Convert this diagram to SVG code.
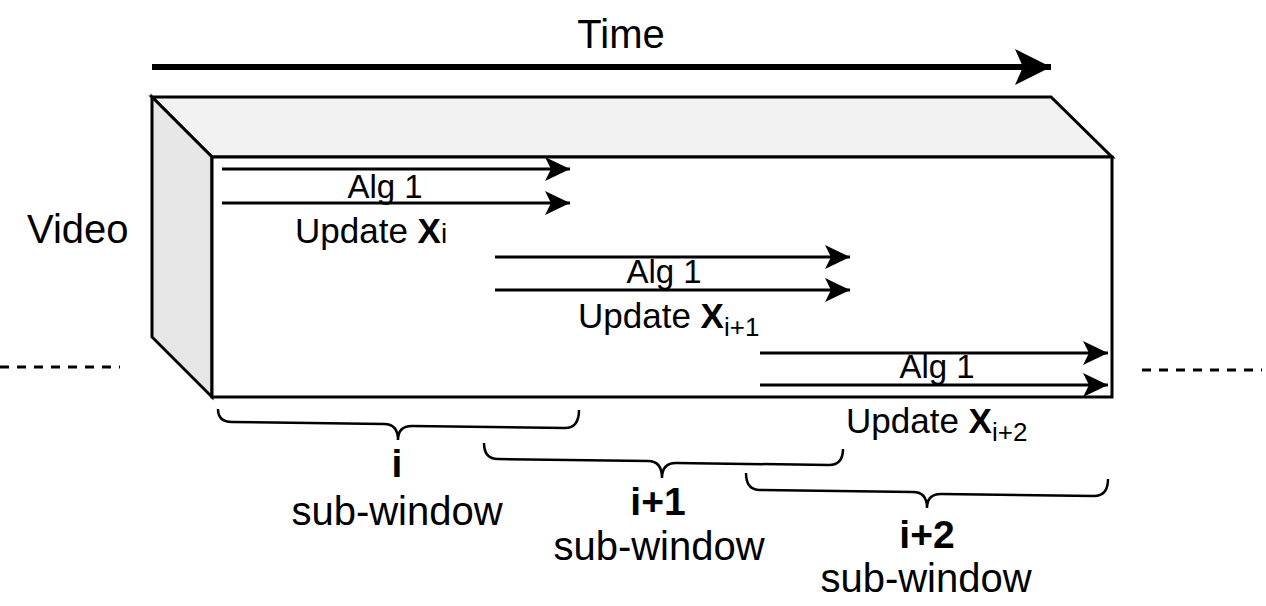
<svg xmlns="http://www.w3.org/2000/svg" width="1266" height="606" viewBox="0 0 1266 606">
<defs>
<marker id="ah" markerUnits="userSpaceOnUse" markerWidth="26" markerHeight="26" viewBox="0 0 26 26" refX="25" refY="13" orient="auto">
<path d="M0,1 L25,13 L0,25 L6,13 Z" fill="#000"/>
</marker>
<marker id="ahBig" markerUnits="userSpaceOnUse" markerWidth="37" markerHeight="38" viewBox="0 0 37 38" refX="36" refY="19" orient="auto">
<path d="M0,1 L36,19 L0,37 L8,19 Z" fill="#000"/>
</marker>
</defs>
<style>
text{font-family:"Liberation Sans",Arial,Helvetica,sans-serif;fill:#000}
.big{font-size:40px}
.alg{font-size:33px;text-anchor:middle}
.upd{font-size:35px}
.lbl{font-size:39px;font-weight:bold;text-anchor:middle}
.sw{font-size:40px;text-anchor:middle}
.arr{stroke:#000;stroke-width:3;fill:none;marker-end:url(#ah)}
.brace{stroke:#000;stroke-width:2.5;fill:none}
.dash{stroke:#000;stroke-width:3;stroke-dasharray:9 8;fill:none}
.face{stroke:#000;stroke-width:3;stroke-linejoin:miter}
</style>
<rect width="1266" height="606" fill="#fff"/>

<g id="time">
<text class="big" x="621" y="48" text-anchor="middle">Time</text>
<line x1="152" y1="67" x2="1051" y2="67" stroke="#000" stroke-width="6" marker-end="url(#ahBig)"/>
</g>

<g id="video-box">
<polygon class="face" points="152,97 1051,97 1112,157 212,157" fill="#f2f2f2"/>
<polygon class="face" points="152,97 212,157 212,397 152,337" fill="#e6e6e6"/>
<rect class="face" x="212" y="157" width="900" height="240" fill="#fff"/>
</g>

<g id="video-label">
<text class="big" x="27" y="243">Video</text>
</g>

<g id="dashes">
<line class="dash" x1="0" y1="367" x2="120" y2="367"/>
<line class="dash" x1="1142" y1="370" x2="1262" y2="370"/>
</g>

<g id="connectors">
<line class="arr" x1="222" y1="169" x2="570" y2="169"/>
<line class="arr" x1="222" y1="203" x2="570" y2="203"/>
<line class="arr" x1="495" y1="257" x2="850" y2="257"/>
<line class="arr" x1="495" y1="290" x2="850" y2="290"/>
<line class="arr" x1="760" y1="353" x2="1108" y2="353"/>
<line class="arr" x1="760" y1="385" x2="1108" y2="385"/>
</g>

<g id="step1">
<text class="alg" x="385" y="198">Alg 1</text>
<text class="upd" x="295" y="243">Update <tspan font-weight="bold">X</tspan><tspan font-size="28">i</tspan></text>
</g>
<g id="step2">
<text class="alg" x="664" y="283">Alg 1</text>
<text class="upd" x="578" y="328">Update <tspan font-weight="bold">X</tspan><tspan font-size="26" dy="8">i+1</tspan></text>
</g>
<g id="step3">
<text class="alg" x="937" y="378">Alg 1</text>
<text class="upd" x="846" y="433">Update <tspan font-weight="bold">X</tspan><tspan font-size="26" dy="8">i+2</tspan></text>
</g>

<g id="brace1">
<path class="brace" d="M218,409 Q218,422 232,422 L384,424 Q398,424 398,440 Q398,426 412,426 L565,428 Q579,428 579,410"/>
<text class="lbl" x="397" y="477">i</text>
<text class="sw" x="397" y="525">sub-window</text>
</g>
<g id="brace2">
<path class="brace" d="M484,443 Q484,459 498,459 L648,461 Q662,461 662,478 Q662,463 676,463 L829,465 Q843,465 843,449"/>
<text class="lbl" x="658" y="515">i+1</text>
<text class="sw" x="659" y="560">sub-window</text>
</g>
<g id="brace3">
<path class="brace" d="M746,473 Q746,490 760,490 L913,492 Q927,492 927,508 Q927,494 941,494 L1094,496 Q1108,496 1108,479"/>
<text class="lbl" x="927" y="548">i+2</text>
<text class="sw" x="926" y="592">sub-window</text>
</g>
</svg>
